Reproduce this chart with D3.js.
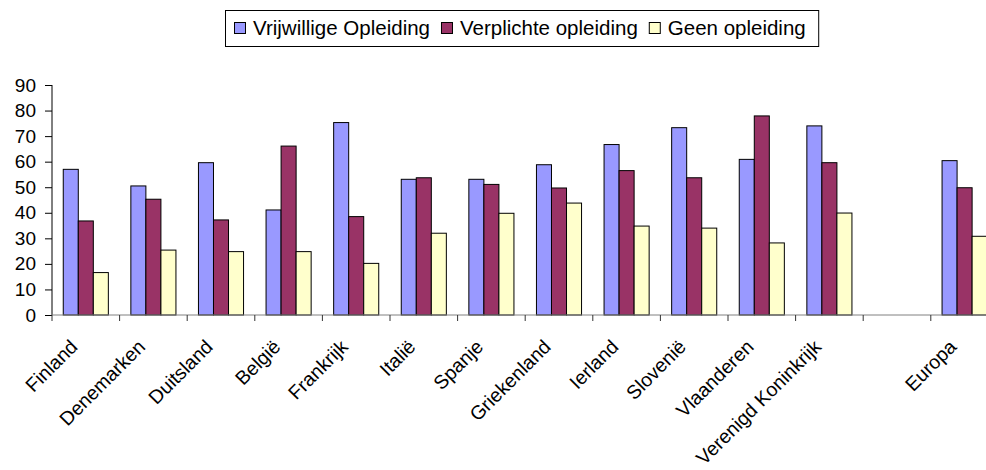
<!DOCTYPE html>
<html>
<head>
<meta charset="utf-8">
<script src="https://cdn.jsdelivr.net/npm/d3@7"></script>
<style>
  body { margin: 0; background: #fff; }
  svg { display: block; font-family: "Liberation Sans", Arial, sans-serif; }
</style>
</head>
<body>
<div id="chart"></div>
<script>
// categories (the empty slot before Europa is part of the original layout)
var categories = ["Finland", "Denemarken", "Duitsland", "België", "Frankrijk", "Italië", "Spanje",
                  "Griekenland", "Ierland", "Slovenië", "Vlaanderen", "Verenigd Koninkrijk", "", "Europa"];
var seriesNames = ["Vrijwillige Opleiding", "Verplichte opleiding", "Geen opleiding"];
var vrijwillig = [57.0, 50.5, 59.6, 41.1, 75.3, 53.1, 53.1, 58.8, 66.7, 73.3, 60.9, 74.0, null, 60.4];
var verplicht  = [36.8, 45.3, 37.2, 66.1, 38.5, 53.7, 51.1, 49.7, 56.5, 53.7, 77.9, 59.6, null, 49.8];
var geen       = [16.6, 25.4, 24.8, 24.8, 20.2, 32.0, 39.8, 43.8, 34.8, 34.0, 28.2, 39.9, null, 30.8];
var yTicks = [0, 10, 20, 30, 40, 50, 60, 70, 80, 90];
var colors = ["#9999FF", "#993366", "#FFFFCC"];

var width = 986, height = 470;
var svg = d3.select("#chart").append("svg")
    .attr("width", width)
    .attr("height", height);

var slots = categories.map(function(c, i) { return "c" + i; });

var x = d3.scaleBand()
    .domain(slots)
    .range([52, 52 + 67.6 * slots.length])
    .paddingInner(0.333)
    .paddingOuter(0.1665);

var xSub = d3.scaleBand()
    .domain([0, 1, 2])
    .range([0, x.bandwidth()]);

var y = d3.scaleLinear()
    .domain([0, 90])
    .range([315, 85]);

var series = [vrijwillig, verplicht, geen];

// bars
series.forEach(function(vals, s) {
    svg.append("g")
        .selectAll("rect")
        .data(vals.map(function(v, i) { return {slot: slots[i], v: v}; })
                  .filter(function(d) { return d.v != null; }))
        .enter().append("rect")
        .attr("x", function(d) { return x(d.slot) + xSub(s); })
        .attr("y", function(d) { return y(d.v); })
        .attr("width", xSub.bandwidth())
        .attr("height", function(d) { return y(0) - y(d.v); })
        .attr("fill", colors[s])
        .attr("stroke", "#000")
        .attr("stroke-width", 1);
});

// y axis
var yAxis = svg.append("g")
    .attr("transform", "translate(52,0)")
    .call(d3.axisLeft(y).tickValues(yTicks).tickSize(7).tickPadding(9));
yAxis.select(".domain").attr("stroke", "#000").attr("d", "M0," + y(0) + "V" + y(90));
yAxis.selectAll("line").attr("stroke", "#000");
yAxis.selectAll("text").attr("font-size", 19).attr("fill", "#000")
    .attr("font-family", "'Liberation Sans', Arial, sans-serif");

// x axis line and ticks at band boundaries
var step = x.step();
var boundaries = d3.range(slots.length + 1).map(function(i) { return x.range()[0] + i * step; });
svg.append("line")
    .attr("x1", 52).attr("x2", x.range()[1])
    .attr("y1", y(0)).attr("y2", y(0))
    .attr("stroke", "#808080");
svg.append("g").selectAll("line")
    .data(boundaries)
    .enter().append("line")
    .attr("x1", function(d) { return d; }).attr("x2", function(d) { return d; })
    .attr("y1", y(0)).attr("y2", y(0) + 6)
    .attr("stroke", "#333");

// category labels
svg.append("g").selectAll("text")
    .data(categories.map(function(c, i) { return {slot: slots[i], name: c}; }))
    .enter().append("text")
    .attr("transform", function(d) {
        var cx = x(d.slot) + x.bandwidth() / 2;
        return "translate(" + (cx - 7) + ",348) rotate(-45)";
    })
    .attr("text-anchor", "end")
    .attr("font-size", 19.5)
    .text(function(d) { return d.name; });

// legend
var legend = svg.append("g");
var legendBox = legend.append("rect")
    .attr("x", 225.5).attr("y", 10.5)
    .attr("width", 594).attr("height", 36)
    .attr("fill", "#fff")
    .attr("stroke", "#000");
var lx = 234;
seriesNames.forEach(function(name, i) {
    legend.append("rect")
        .attr("x", lx + 0.5).attr("y", 22.5)
        .attr("width", 11).attr("height", 11)
        .attr("fill", colors[i])
        .attr("stroke", "#000");
    var t = legend.append("text")
        .attr("x", lx + 19).attr("y", 34.5)
        .attr("font-size", 20.5)
        .text(name);
    lx = lx + 19 + t.node().getComputedTextLength() + 11;
});
legendBox.attr("width", lx + 2 - 225.5);
</script>
</body>
</html>
